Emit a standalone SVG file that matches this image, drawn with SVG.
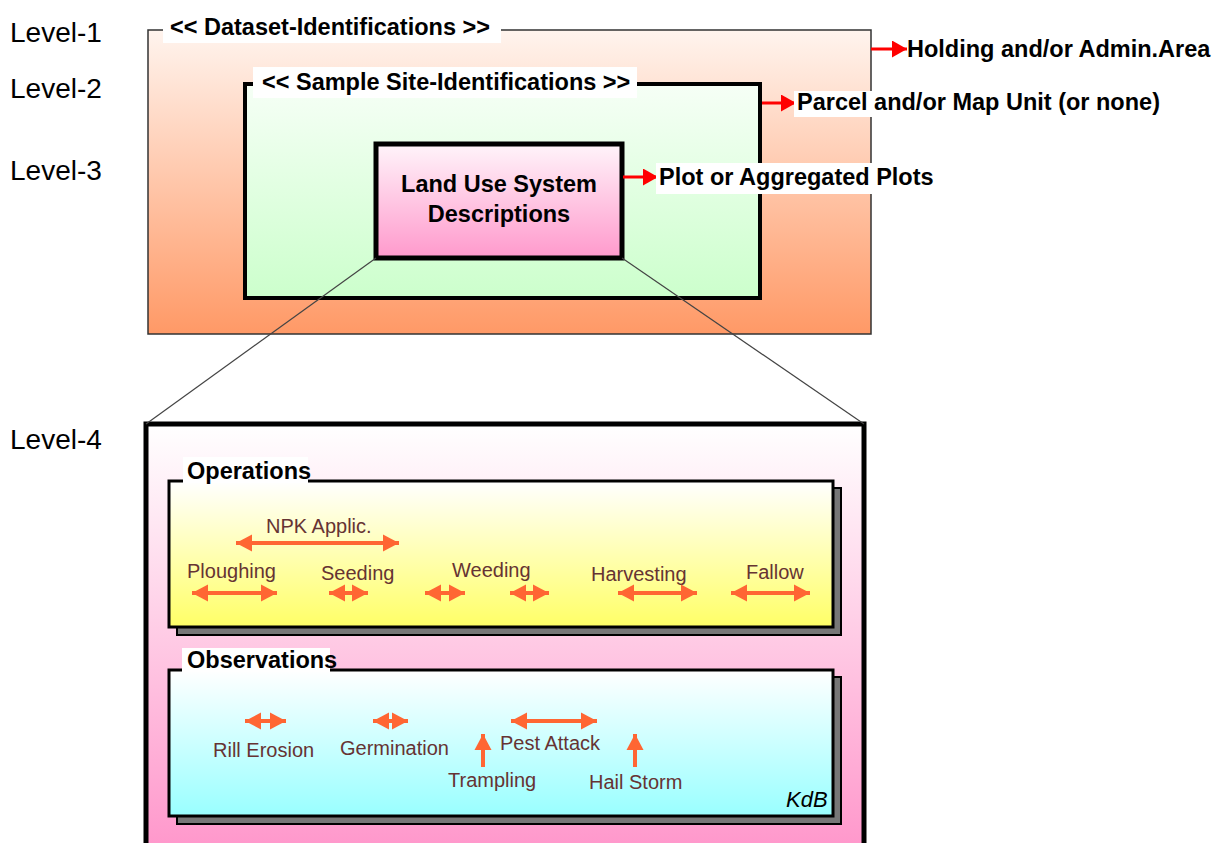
<svg xmlns="http://www.w3.org/2000/svg" width="1215" height="843" viewBox="0 0 1215 843">
  <defs>
    <linearGradient id="gDataset" x1="0" y1="0" x2="0" y2="1">
      <stop offset="0" stop-color="#FFF4EE"/>
      <stop offset="1" stop-color="#FF9966"/>
    </linearGradient>
    <linearGradient id="gSite" x1="0" y1="0" x2="0" y2="1">
      <stop offset="0" stop-color="#F6FFF6"/>
      <stop offset="1" stop-color="#CCFFCC"/>
    </linearGradient>
    <linearGradient id="gLus" x1="0" y1="0" x2="0" y2="1">
      <stop offset="0" stop-color="#FFF4FA"/>
      <stop offset="1" stop-color="#FF99CC"/>
    </linearGradient>
    <linearGradient id="gLevel4" x1="0" y1="0" x2="0" y2="1">
      <stop offset="0" stop-color="#FFFFFF"/>
      <stop offset="0.95" stop-color="#FF99CC"/>
      <stop offset="1" stop-color="#FF99CC"/>
    </linearGradient>
    <linearGradient id="gOps" x1="0" y1="0" x2="0" y2="1">
      <stop offset="0" stop-color="#FFFFFF"/>
      <stop offset="1" stop-color="#FFFF66"/>
    </linearGradient>
    <linearGradient id="gObs" x1="0" y1="0" x2="0" y2="1">
      <stop offset="0" stop-color="#FFFFFF"/>
      <stop offset="1" stop-color="#99FFFF"/>
    </linearGradient>
    <marker id="redHead" markerUnits="userSpaceOnUse" markerWidth="16" markerHeight="17" refX="15" refY="8.5" orient="auto">
      <path d="M0,0 L15,8.5 L0,17 z" fill="#FF0000"/>
    </marker>
    <marker id="orangeHead" markerUnits="userSpaceOnUse" markerWidth="17" markerHeight="18" refX="16" refY="9" orient="auto-start-reverse">
      <path d="M0,0.5 L16,9 L0,17.5 z" fill="#FF6633"/>
    </marker>
  </defs>
  <style>
    .lvl { font-family: "Liberation Sans", Arial, sans-serif; font-size: 28px; fill: #000; }
    .bold { font-family: "Liberation Sans", Arial, sans-serif; font-size: 23.5px; font-weight: bold; fill: #000; }
    .ev { font-family: "Liberation Sans", Arial, sans-serif; font-size: 20px; fill: #663333; }
    .kdb { font-family: "Liberation Sans", Arial, sans-serif; font-size: 22px; font-style: italic; fill: #000; }
    .red { stroke: #FF0000; stroke-width: 3; fill: none; marker-end: url(#redHead); }
    .zoom { stroke: #444; stroke-width: 1.2; fill: none; }
    .oarr { stroke: #FF6633; stroke-width: 4; fill: none; marker-start: url(#orangeHead); marker-end: url(#orangeHead); }
    .oup { stroke: #FF6633; stroke-width: 4; fill: none; marker-end: url(#orangeHead); }
    .tag { fill: #FFFFFF; }
  </style>

  <rect width="1215" height="843" fill="#FFFFFF"/>

  <!-- level captions -->
  <g id="level-labels">
    <text class="lvl" x="10" y="42">Level-1</text>
    <text class="lvl" x="10" y="98">Level-2</text>
    <text class="lvl" x="10" y="180">Level-3</text>
    <text class="lvl" x="10" y="449">Level-4</text>
  </g>

  <!-- level 1: dataset -->
  <g id="box-dataset">
    <rect x="148" y="30" width="723" height="304" fill="url(#gDataset)" stroke="#333" stroke-width="1.5"/>
    <rect class="tag" x="163" y="10" width="338" height="33"/>
    <text class="bold" x="170" y="35">&lt;&lt; Dataset-Identifications &gt;&gt;</text>
  </g>

  <!-- level 2: sample site -->
  <g id="box-site">
    <rect x="245" y="84" width="515" height="214" fill="url(#gSite)" stroke="#000" stroke-width="4"/>
    <rect class="tag" x="253" y="67" width="384" height="31"/>
    <text class="bold" x="262" y="90">&lt;&lt; Sample Site-Identifications &gt;&gt;</text>
  </g>

  <!-- level 3: land use system -->
  <g id="box-lus">
    <rect x="376" y="144" width="246" height="114" fill="url(#gLus)" stroke="#000" stroke-width="5"/>
    <text class="bold" x="499" y="192" text-anchor="middle">Land Use System</text>
    <text class="bold" x="499" y="222" text-anchor="middle">Descriptions</text>
  </g>

  <!-- level 4: detail panel -->
  <g id="box-level4">
    <rect x="146" y="424" width="718" height="440" fill="url(#gLevel4)" stroke="#000" stroke-width="5"/>
  </g>

  <!-- operations timeline -->
  <g id="box-operations">
    <rect x="177" y="488" width="664" height="147" fill="#777" stroke="#000" stroke-width="2"/>
    <rect x="169" y="481" width="664" height="146" fill="url(#gOps)" stroke="#000" stroke-width="3"/>
    <rect class="tag" x="183" y="457" width="125" height="26"/>
    <text class="bold" x="187" y="479">Operations</text>
    <text class="ev" x="266" y="533">NPK Applic.</text>
    <line class="oarr" x1="236" y1="543" x2="399" y2="543"/>
    <text class="ev" x="187" y="578">Ploughing</text>
    <line class="oarr" x1="192" y1="593" x2="277" y2="593"/>
    <text class="ev" x="321" y="580">Seeding</text>
    <line class="oarr" x1="329" y1="593" x2="368" y2="593"/>
    <text class="ev" x="452" y="577">Weeding</text>
    <line class="oarr" x1="425" y1="593" x2="465" y2="593"/>
    <line class="oarr" x1="510" y1="593" x2="549" y2="593"/>
    <text class="ev" x="591" y="581">Harvesting</text>
    <line class="oarr" x1="618" y1="593" x2="697" y2="593"/>
    <text class="ev" x="746" y="579">Fallow</text>
    <line class="oarr" x1="731" y1="593" x2="810" y2="593"/>
  </g>

  <!-- observations timeline -->
  <g id="box-observations">
    <rect x="177" y="677" width="664" height="147" fill="#777" stroke="#000" stroke-width="2"/>
    <rect x="169" y="670" width="664" height="146" fill="url(#gObs)" stroke="#000" stroke-width="3"/>
    <rect class="tag" x="182" y="648" width="148" height="24"/>
    <text class="bold" x="187" y="668">Observations</text>
    <line class="oarr" x1="245" y1="721" x2="286" y2="721"/>
    <text class="ev" x="213" y="757">Rill Erosion</text>
    <line class="oarr" x1="373" y1="721" x2="408" y2="721"/>
    <text class="ev" x="340" y="755">Germination</text>
    <line class="oarr" x1="511" y1="721" x2="597" y2="721"/>
    <text class="ev" x="500" y="750">Pest Attack</text>
    <line class="oup" x1="483" y1="767" x2="483" y2="734"/>
    <text class="ev" x="448" y="787">Trampling</text>
    <line class="oup" x1="635" y1="767" x2="635" y2="734"/>
    <text class="ev" x="589" y="789">Hail Storm</text>
    <text class="kdb" x="786" y="807">KdB</text>
  </g>

  <!-- connectors -->
  <g id="connectors">
    <line class="zoom" x1="376" y1="258" x2="146" y2="424"/>
    <line class="zoom" x1="622" y1="258" x2="864" y2="424"/>
    <line class="red" x1="871" y1="49" x2="907" y2="49"/>
    <line class="red" x1="762" y1="103" x2="796" y2="103"/>
    <line class="red" x1="623" y1="177" x2="658" y2="177"/>
  </g>

  <!-- unit labels on the right -->
  <g id="unit-labels">
    <text class="bold" x="907" y="57">Holding and/or Admin.Area</text>
    <rect class="tag" x="794" y="91" width="370" height="26"/>
    <text class="bold" x="797" y="110">Parcel and/or Map Unit (or none)</text>
    <rect class="tag" x="656" y="163" width="282" height="31"/>
    <text class="bold" x="659" y="185">Plot or Aggregated Plots</text>
  </g>
</svg>
